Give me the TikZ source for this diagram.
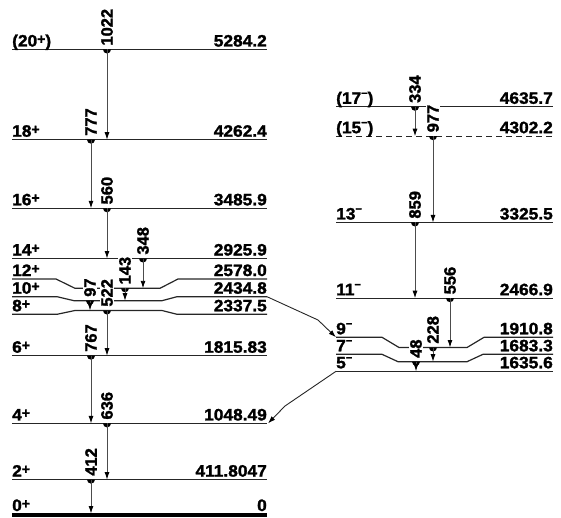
\documentclass[tikz,border=0pt]{standalone}
\usetikzlibrary{arrows.meta}
\font\lvfont="Liberation Sans/B:embolden=1.6;extend=1.05" at 16.5pt
\font\lvgam="Liberation Sans/B:embolden=1.6" at 16.5pt
\font\lvsup="Liberation Sans/B:embolden=1.6" at 14pt
\font\lvsupm="Liberation Sans/B:embolden=1.6" at 11pt
\newcommand{\spinp}{\raisebox{0.16em}{\lvsup +}}
\newcommand{\spinm}{\raisebox{0.42em}{\lvsupm −}}
\begin{document}
\begin{tikzpicture}[x=1pt, y=-1pt, >={Latex[length=7.5pt,width=5pt,color=black]},
    every node/.style={font=\lvfont, inner sep=0pt},
    lev/.style={line width=1.2pt, black!85},
    gam/.style={->, line width=0.9pt, black!70},
    glab/.style={rotate=90, anchor=west, fill=white, inner sep=1.2pt, font=\lvgam},
    jlab/.style={anchor=base west},
    elab/.style={anchor=base east}]
    \useasboundingbox (0,0) rectangle (561,518);

    % 1. Levels of the positive-parity band (left)
    \draw[lev] (12,49.5) -- (267,49.5);
    \draw[lev] (12,139.7) -- (267,139.7);
    \draw[lev] (12,208.3) -- (267,208.3);
    \draw[lev] (12,258.5) -- (267,258.5);
    \draw[lev] (12,279) -- (56,279) -- (75,288.3) -- (160,288.3) -- (178,279) -- (267,279);
    \draw[lev] (12,296.7) -- (57,296.7) -- (74,300.7) -- (162,300.7) -- (177,296.7) -- (267,296.7);
    \draw[lev] (12,314.3) -- (57,314.3) -- (75,310.5) -- (162,310.5) -- (177,314.3) -- (267,314.3);
    \draw[lev] (12,355.7) -- (267,355.7);
    \draw[lev] (12,423.4) -- (267,423.4);
    \draw[lev] (12,479.6) -- (267,479.6);
    \draw[line width=3.3pt] (12,515) -- (267,515);

    % 2. Levels of the negative-parity band (right)
    \draw[lev] (336,106.8) -- (553,106.8);
    \draw[lev, dash pattern=on 6pt off 4pt] (336,136.2) -- (553,136.2);
    \draw[lev] (336,222.5) -- (553,222.5);
    \draw[lev] (336,298.2) -- (553,298.2);
    \draw[lev] (336,337.3) -- (382,337.3) -- (399,347.5) -- (467,347.5) -- (484,337.3) -- (553,337.3);
    \draw[lev] (336,354.3) -- (382,354.3) -- (398,361.7) -- (467,361.7) -- (483,354.3) -- (553,354.3);
    \draw[lev] (336,371.3) -- (553,371.3);

    % 3. Spins and energies
    \node[jlab] (j20) at (12,46.5) {(20\spinp)};   \node[elab] (e20) at (267,46.5) {5284.2};
    \node[jlab] (j18) at (12,136.7) {18\spinp};    \node[elab] (e18) at (267,136.7) {4262.4};
    \node[jlab] (j16) at (12,205.3) {16\spinp};    \node[elab] (e16) at (267,205.3) {3485.9};
    \node[jlab] (j14) at (12,255.5) {14\spinp};    \node[elab] (e14) at (267,255.5) {2925.9};
    \node[jlab] (j12) at (12,276) {12\spinp};      \node[elab] (e12) at (267,276) {2578.0};
    \node[jlab] (j10) at (12,293.7) {10\spinp};    \node[elab] (e10) at (267,293.7) {2434.8};
    \node[jlab] (j8) at (12,311.3) {8\spinp};      \node[elab] (e8) at (267,311.3) {2337.5};
    \node[jlab] (j6) at (12,352.7) {6\spinp};      \node[elab] (e6) at (267,352.7) {1815.83};
    \node[jlab] (j4) at (12,420.4) {4\spinp};      \node[elab] (e4) at (267,420.4) {1048.49};
    \node[jlab] (j2) at (12,476.6) {2\spinp};      \node[elab] (e2) at (267,476.6) {411.8047};
    \node[jlab] (j0) at (12,511) {0\spinp};        \node[elab] (e0) at (267,511) {0};

    \node[jlab] (j17) at (336,103.8) {(17\spinm)}; \node[elab] (e17) at (553,103.8) {4635.7};
    \node[jlab] (j15) at (336,133.2) {(15\spinm)}; \node[elab] (e15) at (553,133.2) {4302.2};
    \node[jlab] (j13) at (336,219.5) {13\spinm};   \node[elab] (e13) at (553,219.5) {3325.5};
    \node[jlab] (j11) at (336,295.2) {11\spinm};   \node[elab] (e11) at (553,295.2) {2466.9};
    \node[jlab] (j9) at (336,334.3) {9\spinm};     \node[elab] (e9) at (553,334.3) {1910.8};
    \node[jlab] (j7) at (336,351.3) {7\spinm};     \node[elab] (e7) at (553,351.3) {1683.3};
    \node[jlab] (j5) at (336,368.3) {5\spinm};     \node[elab] (e5) at (553,368.3) {1635.6};

    % 4. Gamma transitions: x / from / to / energy
    \foreach \gx/\gy/\gb/\eg in {107/49.5/139.7/1022, 91/139.7/208.3/777,
        107/208.3/258.5/560, 143/258.5/288.3/348, 125/288.3/300.7/143,
        90/300.7/310.5/97, 107/310.5/355.7/522, 91/355.7/423.4/767,
        107/423.4/479.6/636, 91/479.6/513.5/412,
        415/106.8/136.2/334, 433/136.2/222.5/977, 415/222.5/298.2/859,
        450/298.2/347.5/556, 433/347.5/361.7/228, 416/361.7/371.3/48}{
        \coordinate (s\eg) at (\gx,\gy);
        \coordinate (t\eg) at (\gx,\gb);
        \node[glab] (l\eg) at ([yshift=2.5pt]s\eg) {\eg};
        \fill ([xshift=-4pt]s\eg) arc[start angle=180, end angle=360, radius=4pt] -- cycle;
        \draw[gam] (s\eg) -- (t\eg);
    }

    % 5. Links between the two bands
    \coordinate (x10) at (267,296.7);
    \coordinate (x9) at (336,337.3);
    \coordinate (x5) at (336,371.3);
    \coordinate (x4) at (268,423.4);
    \draw[->, line width=0.9pt, black!85] (x10) -- (318,320) -- (x9);
    \draw[->, line width=0.9pt, black!85] (x5) -- (285,406) -- (x4);
\end{tikzpicture}
\end{document}
